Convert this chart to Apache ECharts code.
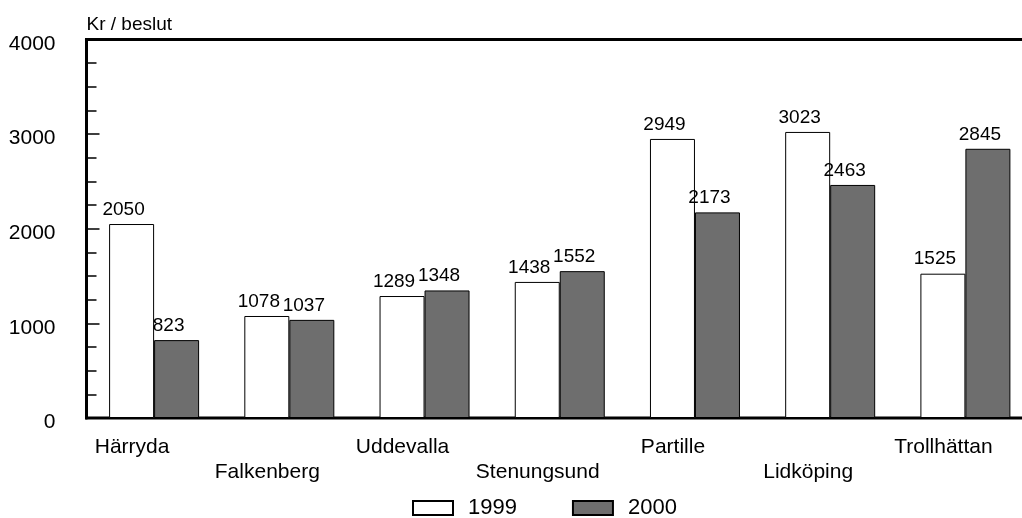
<!DOCTYPE html>
<html>
<head>
<meta charset="utf-8">
<script src="https://cdn.jsdelivr.net/npm/echarts@6/dist/echarts.min.js"></script>
<style>
  html, body { margin: 0; padding: 0; background: #fff; }
  #chart { width: 1022px; height: 518px; }
</style>
</head>
<body>
<div id="chart"></div>
<script>
// Kostnad per beslut, kommunvis, 1999 och 2000
const categories = ['Härryda', 'Falkenberg', 'Uddevalla', 'Stenungsund', 'Partille', 'Lidköping', 'Trollhättan'];
const values1999 = [2050, 1078, 1289, 1438, 2949, 3023, 1525];
const values2000 = [823, 1037, 1348, 1552, 2173, 2463, 2845];
const yTicks = [0, 1000, 2000, 3000, 4000];

const FONT = '"Liberation Sans", Arial, sans-serif';

const chart = echarts.init(document.getElementById('chart'), null, { renderer: 'canvas' });

const barLabel = {
  show: true,
  position: 'top',
  distance: 5,
  offset: [-8, 0],
  color: '#000',
  fontFamily: FONT,
  fontSize: 19
};

chart.setOption({
  animation: false,
  backgroundColor: '#fff',
  grid: {
    left: 86.5,
    top: 39.5,
    width: 946.5,
    height: 378.5,
    outerBoundsMode: 'none',
    containLabel: false,
    show: true,
    borderColor: '#000',
    borderWidth: 3,
    backgroundColor: 'transparent'
  },
  legend: {
    left: 407,
    top: 492,
    itemWidth: 40,
    itemHeight: 14,
    itemGap: 55,
    icon: 'rect',
    textStyle: { fontFamily: FONT, fontSize: 22, color: '#000', padding: [0, 0, 0, 10] },
    data: ['1999', '2000']
  },
  xAxis: {
    type: 'category',
    data: categories,
    axisLine: { show: false },
    axisTick: { show: false },
    axisLabel: {
      interval: 0,
      margin: 19,
      formatter: (name, idx) => (idx % 2 === 0 ? '{a|' + name + '}' : '{b|' + name + '}'),
      rich: {
        a: { fontFamily: FONT, fontSize: 21, color: '#000', padding: [0, 44, 0, 0] },
        b: { fontFamily: FONT, fontSize: 21, color: '#000', padding: [25, 44, 0, 0] }
      }
    }
  },
  yAxis: {
    type: 'value',
    min: yTicks[0],
    max: yTicks[yTicks.length - 1],
    interval: 1000,
    name: 'Kr / beslut',
    nameLocation: 'end',
    nameGap: 5,
    nameTextStyle: { fontFamily: FONT, fontSize: 19, color: '#000', align: 'left', padding: [0, 0, 0, 0] },
    axisLine: { show: true, lineStyle: { color: '#000', width: 3 } },
    axisTick: { show: true, inside: true, length: 13, lineStyle: { color: '#000', width: 1.5 } },
    minorTick: { show: true, splitNumber: 4, length: 10, lineStyle: { color: '#000', width: 1.5 } },
    splitLine: { show: false },
    axisLabel: {
      margin: 31,
      formatter: (v) => '{v|' + v + '}',
      rich: {
        v: { fontFamily: FONT, fontSize: 21, color: '#000', padding: [9, 0, 0, 0] }
      }
    }
  },
  series: [
    {
      name: '1999',
      type: 'bar',
      data: values1999,
      barWidth: 45,
      barGap: '0%',
      itemStyle: { color: '#fff', borderColor: '#000', borderWidth: 1 },
      label: barLabel
    },
    {
      name: '2000',
      type: 'bar',
      data: values2000,
      barWidth: 45,
      barGap: '0%',
      itemStyle: { color: '#6e6e6e', borderColor: '#000', borderWidth: 1 },
      label: barLabel
    }
  ]
});
</script>
</body>
</html>
